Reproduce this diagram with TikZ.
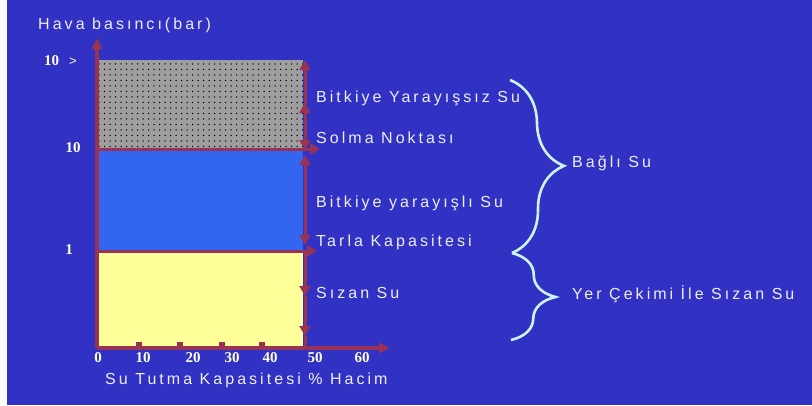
\documentclass[tikz,border=0pt]{standalone}
\usepackage{fontspec}
\setmainfont{Liberation Sans}
\newfontfamily\spaced{Liberation Sans}[LetterSpace=19]
\newfontfamily\numfont{Liberation Serif}
\usetikzlibrary{positioning,arrows.meta,patterns.meta,decorations.pathreplacing}
\definecolor{Navy}{HTML}{3131C4}
\definecolor{Sky}{HTML}{3366F0}
\definecolor{Butter}{HTML}{FFFF99}
\definecolor{Stone}{HTML}{9E9E9E}
\definecolor{Maroon}{HTML}{993355}
\definecolor{Ice}{HTML}{CCF4FF}
\definecolor{Chalk}{HTML}{EEEEF8}
\definecolor{Cream}{HTML}{FFFFE4}

\begin{document}
\begin{tikzpicture}[x=1pt,y=-1pt,
    lbl/.style={anchor=west,inner sep=0pt,text=Chalk,font=\spaced\fontsize{16}{16}\selectfont},
    num/.style={inner sep=0pt,text=Cream,font=\numfont\bfseries\fontsize{15}{15}\selectfont},
    axis/.style={Maroon,line width=3.4pt,-{Triangle[length=11pt,width=10pt]}},
    tip/.style={Maroon,line width=3pt,-{Triangle[length=10pt,width=11pt]}},
    both/.style={Maroon,line width=3pt,{Triangle[length=10pt,width=11pt]}-{Triangle[length=10pt,width=11pt]}},
    brc/.style={Ice,line width=2.6pt,decorate,decoration={brace,amplitude=#1}}
  ]
    \useasboundingbox (0,0) rectangle (812,405);
    \fill[white] (0,0) rectangle (812,405);
    \fill[Navy] (7,0) rectangle (812,405);

    % water zones
    \fill[Stone] (99,60) rectangle (303,148);
    \fill[pattern={Dots[distance=5.5pt,radius=0.75pt]},pattern color=black] (99,60) rectangle (303,148);
    \fill[Sky] (99,150) rectangle (303,250);
    \fill[Butter] (99,252) rectangle (303,346);

    % axes
    \coordinate (o) at (97,348);
    \coordinate (ytop) at (97,38);
    \coordinate (xend) at (390,348);
    \draw[axis] (o)--(ytop);
    \draw[axis] (o)--(xend);
    \foreach \x in {139,180,222,262} \fill[Maroon] (\x-3,342) rectangle (\x+3,348);

    % limits
    \coordinate (s0) at (97,149);  \coordinate (s1) at (320,149);
    \coordinate (t0) at (97,251);  \coordinate (t1) at (317,251);
    \draw[tip] (s0)--(s1);
    \draw[tip] (t0)--(t1);

    % zone arrows
    \coordinate (g0) at (305,60);  \coordinate (g1) at (305,150);
    \coordinate (g2) at (305,128); \coordinate (g3) at (305,103);
    \coordinate (b0) at (305,155); \coordinate (b1) at (305,245);
    \coordinate (y0) at (305,252); \coordinate (y1) at (305,296);
    \coordinate (y2) at (305,336); \coordinate (y3) at (305,347);
    \draw[both] (g0)--(g1);
    \draw[tip] (g2)--(g3);
    \draw[both] (b0)--(b1);
    \draw[tip] (y0)--(y1);
    \draw[tip] (y1)--(y2);
    \draw[Maroon,line width=3pt] (y2)--(y3);

    % scale
    \node[lbl] (ttl) at (38,25) {Hava basıncı(bar)};
    \node[num,anchor=west] (ymax) at (44,61) {10 {\spaced\fontsize{13}{13}\selectfont\mdseries\ >}};
    \node[num] (y10) at (73,148) {10};
    \node[num] (y1) at (69,250) {1};
    \foreach \v/\x in {0/98,10/143,20/193,30/232,40/270,50/315,60/362}
      \node[num] (n\v) at (\x,358) {\v};
    \node[lbl] (xttl) at (105,380) {Su Tutma Kapasitesi \% Hacim};

    % zone names
    \node[lbl] (yaramaz) at (316,98) {Bitkiye Yarayışsız Su};
    \node[lbl] (solma) at (316,138) {Solma Noktası};
    \node[lbl] (yarar) at (316,203) {Bitkiye yarayışlı Su};
    \node[lbl] (tarla) at (316,242) {Tarla Kapasitesi};
    \node[lbl] (sizan) at (316,293) {Sızan Su};

    % braces
    \coordinate (k0) at (510,80);  \coordinate (k1) at (512,253);
    \coordinate (m0) at (512,253); \coordinate (m1) at (511,340);
    \draw[brc=53pt] (k0)--(k1);
    \draw[brc=44pt] (m0)--(m1);
    \node[lbl] (bagli) at (572,163) {Bağlı Su};
    \node[lbl] (yercekim) at (572,294) {Yer Çekimi İle Sızan Su};
  \end{tikzpicture}
\end{document}
